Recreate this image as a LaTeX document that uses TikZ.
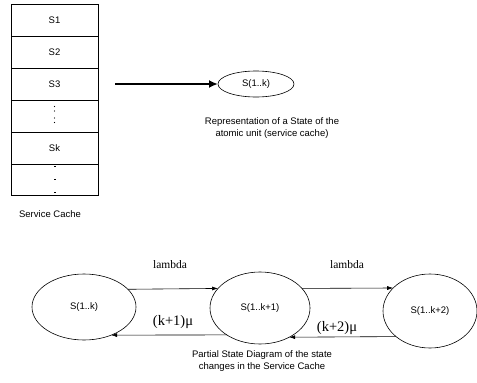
\documentclass[tikz,border=0pt]{standalone}
\usepackage{fontspec}
\setmainfont{Liberation Serif}
\setsansfont{Liberation Sans}
\usetikzlibrary{arrows.meta,shapes.geometric}
\begin{document}
\begin{tikzpicture}[x=1pt,y=-1pt,
  every node/.style={inner sep=0pt,outer sep=0pt},
  sanstext/.style={font=\sffamily\fontsize{9.5}{11.5}\selectfont, align=center},
  cell/.style={draw, line width=0.8pt, minimum width=87pt, minimum height=32pt, anchor=north west,
               font=\sffamily\fontsize{9.5}{11.5}\selectfont},
  state/.style={draw, ellipse, line width=0.6pt, font=\sffamily\fontsize{9.5}{11.5}\selectfont},
  rate/.style={font=\fontsize{11.5}{13}\selectfont},
  ratemu/.style={font=\fontsize{14.5}{16}\selectfont},
  trans/.style={line width=0.6pt, -{Latex[length=6pt,width=4pt]}}]
\useasboundingbox (0,0) rectangle (477,383);
\fill[white] (0,0) rectangle (477,383);

% service cache stack
\node[cell] (c1) at (11,4) {S1};
\node[cell] (c2) at (11,36) {S2};
\node[cell] (c3) at (11,68) {S3};
\node[cell] (c4) at (11,100) {};
\node[cell] (c5) at (11,132) {Sk};
\node[cell,minimum height=31pt] (c6) at (11,164) {};
\foreach \yy in {106.5,111,118,122.5}{\fill (54.5,\yy) circle (0.55pt);}
\foreach \yy in {166.5,179,192}{\fill (53.5,\yy-0.5) rectangle (55.5,\yy+0.5);}
\node[sanstext] (cap1) at (50,214) {Service Cache};

% single state representation
\node[state, minimum width=76pt, minimum height=26pt] (s0) at (256,84) {S(1..k)};
\coordinate (arrstart) at (115,84);
\draw[line width=2pt, -{Latex[length=9pt,width=8pt]}] (arrstart) -- (s0.west);
\node[sanstext] (cap2) at (272,128) {Representation of a State of the\\atomic unit (service cache)};

% partial state diagram
\node[state, minimum width=104pt, minimum height=66pt] (a) at (84,307) {S(1..k)};
\node[state, minimum width=100pt, minimum height=72pt] (b) at (260,308) {S(1..k+1)};
\node[state, minimum width=94pt, minimum height=74pt] (c) at (430,311) {S(1..k+2)};

\draw[trans] (a.22.4) -- (b.155.9);
\draw[trans] (b.25.7) -- (c.148.0);
\draw[trans] (b.219.3) -- (a.314.5);
\draw[trans] (c.217.9) -- (b.315.6);

\node[rate] (l1) at (170,265) {lambda};
\node[rate] (l2) at (347,265) {lambda};
\node[ratemu] (m1) at (173,322) {(k+1)μ};
\node[ratemu] (m2) at (337,328) {(k+2)μ};

\node[sanstext] (cap3) at (262,361) {Partial State Diagram of the state\\changes in the Service Cache};
\end{tikzpicture}
\end{document}
